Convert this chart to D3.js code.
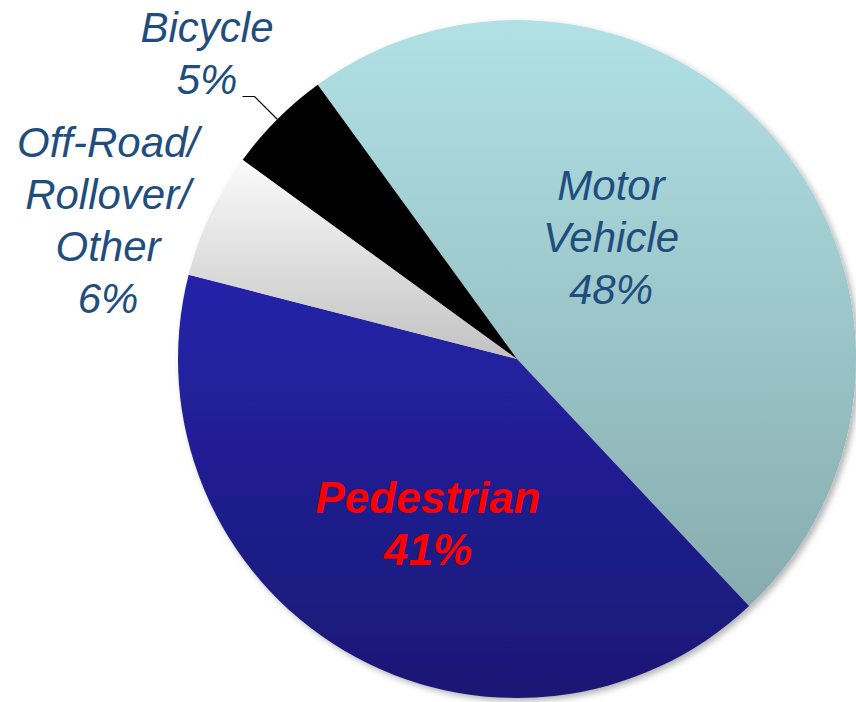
<!DOCTYPE html>
<html>
<head>
<meta charset="utf-8">
<script src="https://cdn.jsdelivr.net/npm/d3@7"></script>
<style>
  html, body { margin: 0; padding: 0; background: #fff; }
  svg { display: block; }
</style>
</head>
<body>
<div id="chart"></div>
<script>
// Pie data (clockwise from the Bicycle / Motor Vehicle edge)
const categories = ['Motor Vehicle', 'Pedestrian', 'Off-Road/Rollover/Other', 'Bicycle'];
const shares = [48, 41, 6, 5];
const labelLines = [
  ['Motor', 'Vehicle', '48%'],
  ['Pedestrian', '41%'],
  ['Off-Road/', 'Rollover/', 'Other', '6%'],
  ['Bicycle', '5%']
];

// Styling per slice
const gradStops = [
  ['#b1e1e5', '#87acaf'],
  ['#2523a9', '#1a1875'],
  ['#fbfbfb', '#c2c2c2'],
  ['#000000', '#000000']
];
// label anchor (first baseline) relative to pie centre
const labelOffset = [[94, -159], [-89, 154], [-409, -202], [-310, -317]];
const labelStyle = [
  { fill: '#1f4e7e', weight: 'normal', size: 42 },
  { fill: '#ff0000', weight: 'bold', size: 44 },
  { fill: '#1f4e7e', weight: 'normal', size: 42 },
  { fill: '#1f4e7e', weight: 'normal', size: 42 }
];

const width = 856, height = 702;
const cx = 517, cy = 359, radius = 339;
const startDeg = -36;

const svg = d3.select('#chart').append('svg')
  .attr('width', width)
  .attr('height', height);

const defs = svg.append('defs');
const shadow = defs.append('filter')
  .attr('id', 'shadow')
  .attr('x', '-10%').attr('y', '-10%')
  .attr('width', '120%').attr('height', '120%');
shadow.append('feDropShadow')
  .attr('dx', 3).attr('dy', 3)
  .attr('stdDeviation', 3)
  .attr('flood-color', '#000')
  .attr('flood-opacity', 0.3);

gradStops.forEach((s, i) => {
  const g = defs.append('linearGradient')
    .attr('id', 'grad' + i)
    .attr('x1', 0).attr('y1', 0)
    .attr('x2', 0).attr('y2', 1);
  g.append('stop').attr('offset', '0%').attr('stop-color', s[0]);
  g.append('stop').attr('offset', '100%').attr('stop-color', s[1]);
});

const pie = d3.pie()
  .sort(null)
  .value(d => d)
  .startAngle(startDeg * Math.PI / 180)
  .endAngle(startDeg * Math.PI / 180 + 2 * Math.PI);

const arcs = pie(shares);
const arc = d3.arc().innerRadius(0).outerRadius(radius);

const g = svg.append('g')
  .attr('transform', `translate(${cx},${cy})`);

g.append('g')
  .attr('filter', 'url(#shadow)')
  .selectAll('path')
  .data(arcs)
  .join('path')
  .attr('d', arc)
  .attr('fill', (d, i) => `url(#grad${i})`);

// Leader line for the Bicycle slice
const bike = arcs[3];
const mid = (bike.startAngle + bike.endAngle) / 2;
const p0 = d3.pointRadial(mid, radius);
const p1 = d3.pointRadial(mid, radius * 1.095);
g.append('polyline')
  .attr('points', [p0, p1, [p1[0] - 12, p1[1]]].map(p => p.join(',')).join(' '))
  .attr('fill', 'none')
  .attr('stroke', '#000')
  .attr('stroke-width', 1.2);

// Labels
labelLines.forEach((lines, i) => {
  const st = labelStyle[i];
  const t = g.append('text')
    .attr('x', labelOffset[i][0])
    .attr('y', labelOffset[i][1])
    .attr('text-anchor', 'middle')
    .attr('font-family', 'Arial, "Liberation Sans", sans-serif')
    .attr('font-style', 'italic')
    .attr('font-weight', st.weight)
    .attr('font-size', st.size + 'px')
    .attr('fill', st.fill);
  lines.forEach((ln, j) => {
    t.append('tspan')
      .attr('x', labelOffset[i][0])
      .attr('dy', j === 0 ? 0 : (i === 1 ? 52 : 52))
      .text(ln);
  });
});
</script>
</body>
</html>
